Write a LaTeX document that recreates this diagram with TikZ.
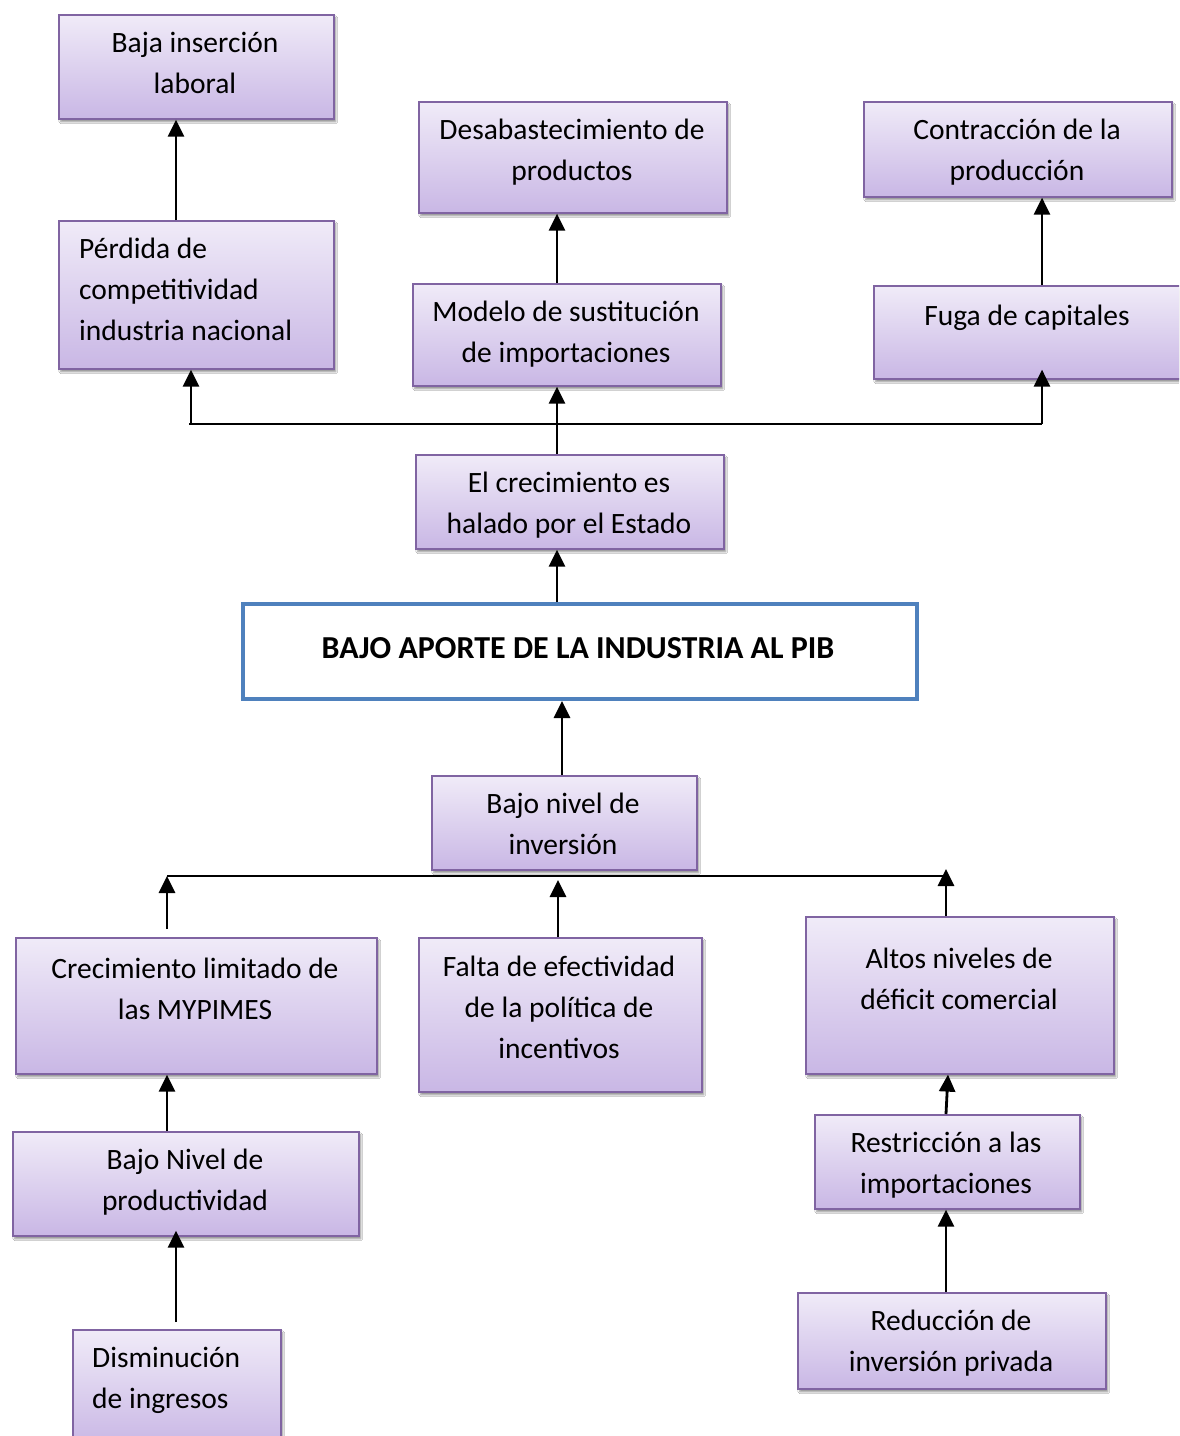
\documentclass[tikz,border=0pt]{standalone}
\usepackage{fontspec}
\setmainfont{Carlito}
\usetikzlibrary{arrows.meta,shadows.blur}
\definecolor{boxborder}{HTML}{8064A2}
\definecolor{boxtop}{HTML}{F0EBF8}
\definecolor{boxbot}{HTML}{C9B7E5}
\definecolor{mainblue}{HTML}{4F81BD}
\begin{document}
\begin{tikzpicture}[x=1pt,y=-1pt,
  box/.style={draw=boxborder, line width=1.6pt, top color=boxtop, bottom color=boxbot,
    anchor=north west, inner sep=0pt,
    blur shadow={shadow xshift=2pt, shadow yshift=-3pt, shadow blur steps=6, shadow opacity=45}},
  mainbox/.style={draw=mainblue, line width=4pt, fill=white, anchor=north west, inner sep=0pt},
  txt/.style={font=\fontsize{29.5}{41}\selectfont, align=center, anchor=base, inner sep=0pt},
  ltxt/.style={font=\fontsize{29.5}{41}\selectfont, align=left, anchor=base west, inner sep=0pt},
  arr/.style={line width=2.8pt, -{Triangle[length=17pt,width=16pt]}},
  bus/.style={line width=2.3pt}]
\useasboundingbox (0,0) rectangle (1179,1436);
\clip (0,0) rectangle (1179,1436);
\fill[white] (0,0) rectangle (1179,1436);

% boxes
\node[box, minimum width=275pt, minimum height=104pt] (b1) at (58,14) {};
\node[box, minimum width=275pt, minimum height=148pt] (b2) at (58,220) {};
\node[box, minimum width=308pt, minimum height=111pt] (b3) at (418,101) {};
\node[box, minimum width=308pt, minimum height=102pt] (b4) at (412,283) {};
\node[box, minimum width=308pt, minimum height=95pt] (b5) at (863,101) {};
\node[box, minimum width=312pt, minimum height=93pt] (b6) at (873,285) {};
\node[box, minimum width=308pt, minimum height=94pt] (b7) at (415,454) {};
\node[mainbox, minimum width=674pt, minimum height=95pt] (b8) at (241,602) {};
\node[box, minimum width=265pt, minimum height=94pt] (b9) at (431,775) {};
\node[box, minimum width=361pt, minimum height=136pt] (b10) at (15,937) {};
\node[box, minimum width=283pt, minimum height=154pt] (b11) at (418,937) {};
\node[box, minimum width=308pt, minimum height=157pt] (b12) at (805,916) {};
\node[box, minimum width=346pt, minimum height=104pt] (b13) at (12,1131) {};
\node[box, minimum width=265pt, minimum height=94pt] (b14) at (814,1114) {};
\node[box, minimum width=308pt, minimum height=96pt] (b15) at (797,1292) {};
\node[box, minimum width=208pt, minimum height=116pt] (b16) at (72,1329) {};

% texts (anchor = baseline of the last line)
\node[txt] (t1) at (195,93) {Baja inserción\\laboral};
\node[ltxt] (t2) at (79,340) {Pérdida de\\competitividad\\industria nacional};
\node[txt] (t3) at (572,180) {Desabastecimiento de\\productos};
\node[txt] (t4) at (566,362) {Modelo de sustitución\\de importaciones};
\node[txt] (t5) at (1017,180) {Contracción de la\\producción};
\node[txt] (t6) at (1027,325) {Fuga de capitales};
\node[txt] (t7) at (569,533) {El crecimiento es\\halado por el Estado};
\node[txt, font=\fontsize{32}{41}\selectfont\bfseries] (t8) at (578,658) {BAJO APORTE DE LA INDUSTRIA AL PIB};
\node[txt] (t9) at (563,854) {Bajo nivel de\\inversión};
\node[txt] (t10) at (195,1019) {Crecimiento limitado de\\las MYPIMES};
\node[txt] (t11) at (559,1058) {Falta de efectividad\\de la política de\\incentivos};
\node[txt] (t12) at (959,1009) {Altos niveles de\\déficit comercial};
\node[txt] (t13) at (185,1210) {Bajo Nivel de\\productividad};
\node[txt] (t14) at (946,1193) {Restricción a las\\importaciones};
\node[txt] (t15) at (951,1371) {Reducción de\\inversión privada};
\node[ltxt] (t16) at (92,1408) {Disminución\\de ingresos};

% upper connectors
\draw[arr] (176,0 |- b2.north) -- (176,0 |- b1.south);
\draw[arr] (557,0 |- b4.north) -- (557,0 |- b3.south);
\draw[arr] (1042,0 |- b6.north) -- (1042,0 |- b5.south);
\coordinate (ubL) at (189,424);
\coordinate (ubL2) at (191,424);
\coordinate (ubR) at (1042,424);
\draw[bus] (ubL) -- (ubR);
\draw[arr] (ubL2) -- (ubL2 |- b2.south);
\draw[arr, shorten >=-10pt] (ubR) -- (ubR |- b6.south);
\draw[arr] (557,0 |- b7.north) -- (557,0 |- b4.south);
\draw[arr] (557,0 |- b8.north) -- (557,0 |- b7.south);
\draw[arr] (562,0 |- b9.north) -- (562,0 |- b8.south);

% lower connectors
\coordinate (lbL) at (167,876);
\coordinate (lbM) at (558,880);
\coordinate (lbR) at (946,876);
\coordinate (lbR2) at (946,869);
\draw[bus] (lbL) -- (lbR);
\draw[arr, shorten <=8pt] (lbL |- b10.north) -- (lbL);
\draw[arr] (lbM |- b11.north) -- (lbM);
\draw[arr] (lbR |- b12.north) -- (lbR2);
\draw[arr] (167,0 |- b13.north) -- (167,0 |- b10.south);
\draw[arr, shorten <=7pt, shorten >=-6pt] (176,0 |- b16.north) -- (176,0 |- b13.south);
\draw[arr] (946,0 |- b14.north) -- (948,0 |- b12.south);
\draw[arr] (946,0 |- b15.north) -- (946,0 |- b14.south);
\end{tikzpicture}
\end{document}
